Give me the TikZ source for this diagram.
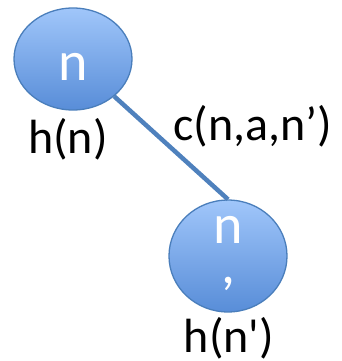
\documentclass[tikz,border=0pt]{standalone}
\usepackage{fontspec}
\setmainfont{Carlito}
\usetikzlibrary{shapes.geometric}
\definecolor{edgeblue}{RGB}{79,129,189}
\definecolor{rimblue}{RGB}{74,126,187}
\definecolor{topblue}{RGB}{160,198,250}
\definecolor{botblue}{RGB}{88,141,216}
\tikzset{
  state/.style={ellipse, draw=rimblue, line width=1.3pt, top color=topblue, bottom color=botblue,
    minimum width=118pt, minimum height=102pt, inner sep=0pt, text=white,
    font=\fontsize{56}{40}\selectfont, align=center},
  lbl/.style={font=\fontsize{48}{56}\selectfont, text=black, inner sep=0pt},
  link/.style={draw=edgeblue, line width=4.5pt}
}
\begin{document}
\begin{tikzpicture}[x=1pt,y=-1pt]
\useasboundingbox (0,0) rectangle (341,361);
\node[state, text height=42pt, text depth=0pt] (n1) at (73,59) {n};
\node[state] (n2) at (228,256) {n\\,\rule[-12pt]{0pt}{0pt}};
\draw[link] (n2.north) -- (n1);
\node[lbl] (h1) at (68,139) {h(n)};
\node[lbl] (c) at (253,126) {c(n,a,n’)};
\node[lbl] (h2) at (229,338) {h(n\textquotesingle)};
\end{tikzpicture}
\end{document}
